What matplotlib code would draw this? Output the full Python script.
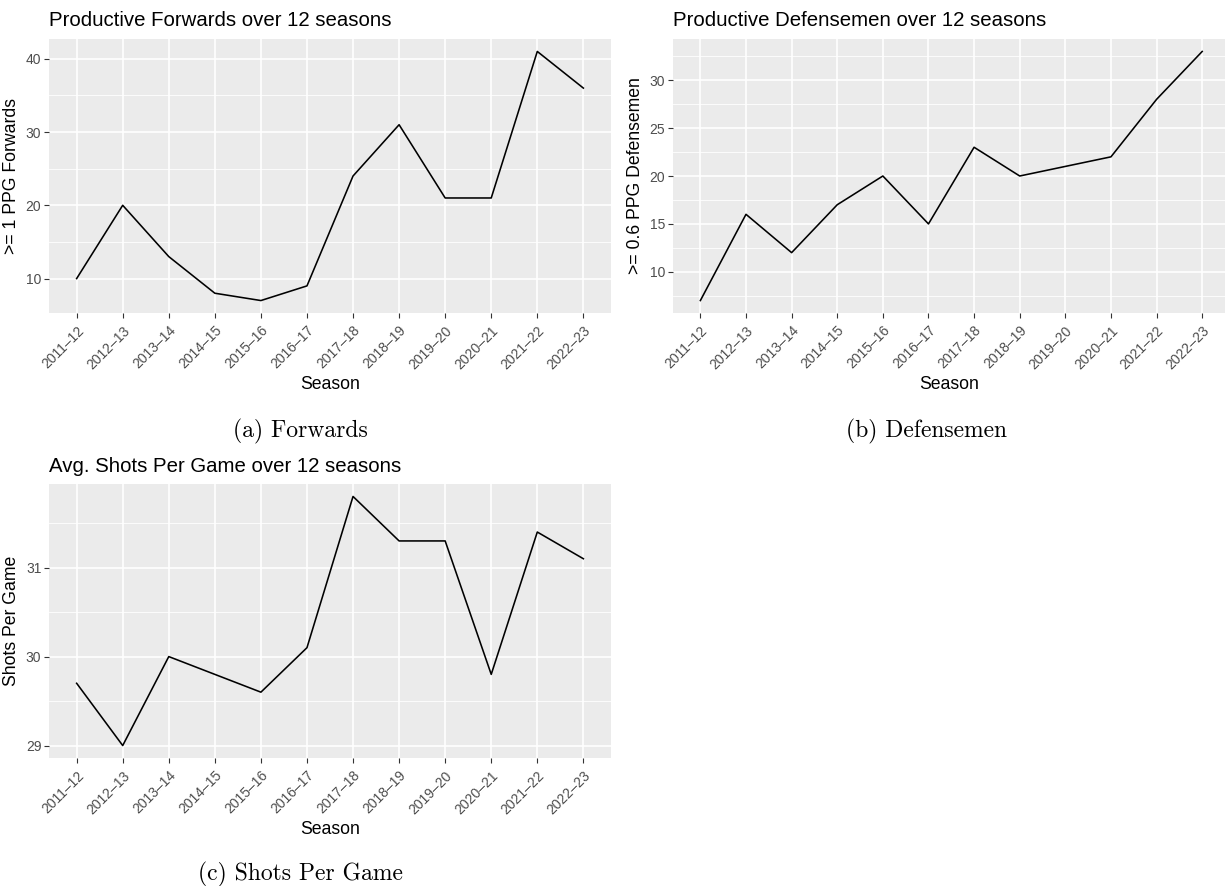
import numpy as np
import matplotlib
matplotlib.use('Agg')
import matplotlib.pyplot as plt
from matplotlib.ticker import MultipleLocator

# Seasons and values per panel
temporadas = ['2011–12', '2012–13', '2013–14', '2014–15', '2015–16', '2016–17',
              '2017–18', '2018–19', '2019–20', '2020–21', '2021–22', '2022–23']
atacantes = [10, 20, 13, 8, 7, 9, 24, 31, 21, 21, 41, 36]
defensores = [7, 16, 12, 17, 20, 15, 23, 20, 21, 22, 28, 33]
chutes = [29.7, 29.0, 30.0, 29.8, 29.6, 30.1, 31.8, 31.3, 31.3, 29.8, 31.4, 31.1]

titulos = ['Productive Forwards over 12 seasons',
           'Productive Defensemen over 12 seasons',
           'Avg. Shots Per Game over 12 seasons']
rotulos_y = ['>= 1 PPG Forwards', '>= 0.6 PPG Defensemen', 'Shots Per Game']
legendas = ['(a) Forwards', '(b) Defensemen', '(c) Shots Per Game']

plt.rcParams['font.family'] = ['Liberation Sans', 'DejaVu Sans']

fig = plt.figure(figsize=(12.25, 8.86), dpi=100)
W, H = 1225, 886


def painel(px_esq, px_dir, px_topo, px_base):
    return fig.add_axes([px_esq / W, 1 - px_base / H,
                         (px_dir - px_esq) / W, (px_base - px_topo) / H])


def estilo_gg(ax, valores, maior, menor, titulo, rotulo_y, x_dir=None):
    x = np.arange(len(temporadas))
    ax.set_facecolor('#EBEBEB')
    for s in ax.spines.values():
        s.set_visible(False)
    ax.plot(x, valores, color='black', lw=1.15, zorder=3)
    ax.set_xlim(-0.6, x_dir if x_dir is not None else len(temporadas) - 0.4)
    lo, hi = min(valores), max(valores)
    pad = (hi - lo) * 0.05
    ax.set_ylim(lo - pad, hi + pad)
    ax.set_xticks(x)
    ax.set_xticklabels(temporadas, rotation=45, ha='right', va='top',
                       rotation_mode='anchor')
    ax.yaxis.set_major_locator(MultipleLocator(maior))
    ax.yaxis.set_minor_locator(MultipleLocator(menor))
    ax.grid(which='major', color='white', lw=1.2)
    ax.grid(which='minor', axis='y', color='white', lw=0.6)
    ax.set_axisbelow(True)
    ax.tick_params(which='major', length=3.5, width=0.8, color='#333333',
                   labelcolor='#4D4D4D', labelsize=10)
    ax.tick_params(axis='x', pad=4)
    ax.tick_params(axis='y', pad=2)
    ax.tick_params(which='minor', length=0)
    ax.set_title(titulo, loc='left', fontsize=14.7, pad=9)
    ax.set_xlabel('Season', fontsize=12.7, labelpad=3)
    ax.set_ylabel(rotulo_y, fontsize=12.7, labelpad=4)


ax_a = painel(49, 611, 39, 313)
estilo_gg(ax_a, atacantes, 10, 5, titulos[0], rotulos_y[0])

# right panel runs off the page edge
ax_b = painel(673, 1225, 39, 313)
estilo_gg(ax_b, defensores, 5, 2.5, titulos[1], rotulos_y[1], x_dir=11.5)

ax_c = painel(49, 611, 484, 758)
estilo_gg(ax_c, chutes, 1, 0.5, titulos[2], rotulos_y[2])

# Subfigure captions
fig.text(300 / W, 1 - 431 / H, legendas[0], family='cmr10', fontsize=17,
         ha='center', va='center')
fig.text(926 / W, 1 - 431 / H, legendas[1], family='cmr10', fontsize=17,
         ha='center', va='center')
fig.text(300 / W, 1 - 874 / H, legendas[2], family='cmr10', fontsize=17,
         ha='center', va='center')

fig.savefig('out.png', dpi=100)
